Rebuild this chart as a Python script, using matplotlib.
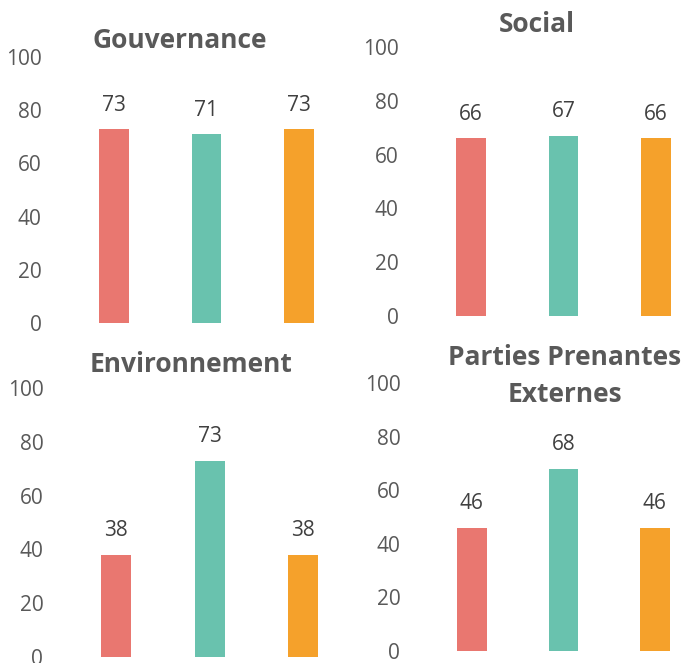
import matplotlib.pyplot as plt

plt.rcParams['font.family'] = ['Open Sans', 'DejaVu Sans']

# data
groups = ['A', 'B', 'C']
colors = ['#E97770', '#69C2AE', '#F5A12B']
titles = ['Gouvernance', 'Social', 'Environnement', 'Parties Prenantes\nExternes']
gouvernance = [73, 71, 73]
social = [66, 67, 66]
environnement = [38, 73, 38]
parties = [46, 68, 46]
values = [gouvernance, social, environnement, parties]

W, H = 682, 663
fig = plt.figure(figsize=(W / 100, H / 100), dpi=100)

# axes boxes in pixels: left, y of value 0, y of value 100, px per category
boxes = [(58.5, 323, 57, 92.5), (415.5, 316, 47, 92.5),
         (60, 657, 388, 93.5), (417, 651, 383, 91.5)]
title_pos = [(180, 40), (537, 25), (191, 364), (565, 376)]

for i, (left, y0, y100, step) in enumerate(boxes):
    ax = fig.add_axes([left / W, (H - y0) / H, 2.95 * step / W, (y0 - y100) / H])
    x = range(len(groups))
    bars = ax.bar(x, values[i], width=0.32, color=colors)
    for b, v in zip(bars, values[i]):
        ax.text(b.get_x() + b.get_width() / 2, v + 5, str(v), ha='center', va='bottom',
                fontsize=15, color='#404040')
    ax.set_xlim(-0.6, 2.35)
    ax.set_ylim(0, 100)
    ax.set_yticks(range(0, 101, 20))
    ax.set_xticks([])
    ax.tick_params(axis='y', length=0, labelsize=15, labelcolor='#595959', pad=12)
    for s in ax.spines.values():
        s.set_visible(False)
    ax.patch.set_alpha(0)
    tx, ty = title_pos[i]
    fig.text(tx / W, 1 - ty / H, titles[i], ha='center', va='center', fontsize=19,
             fontweight='bold', color='#595959', linespacing=1.45)

fig.savefig('out.png', dpi=100)
